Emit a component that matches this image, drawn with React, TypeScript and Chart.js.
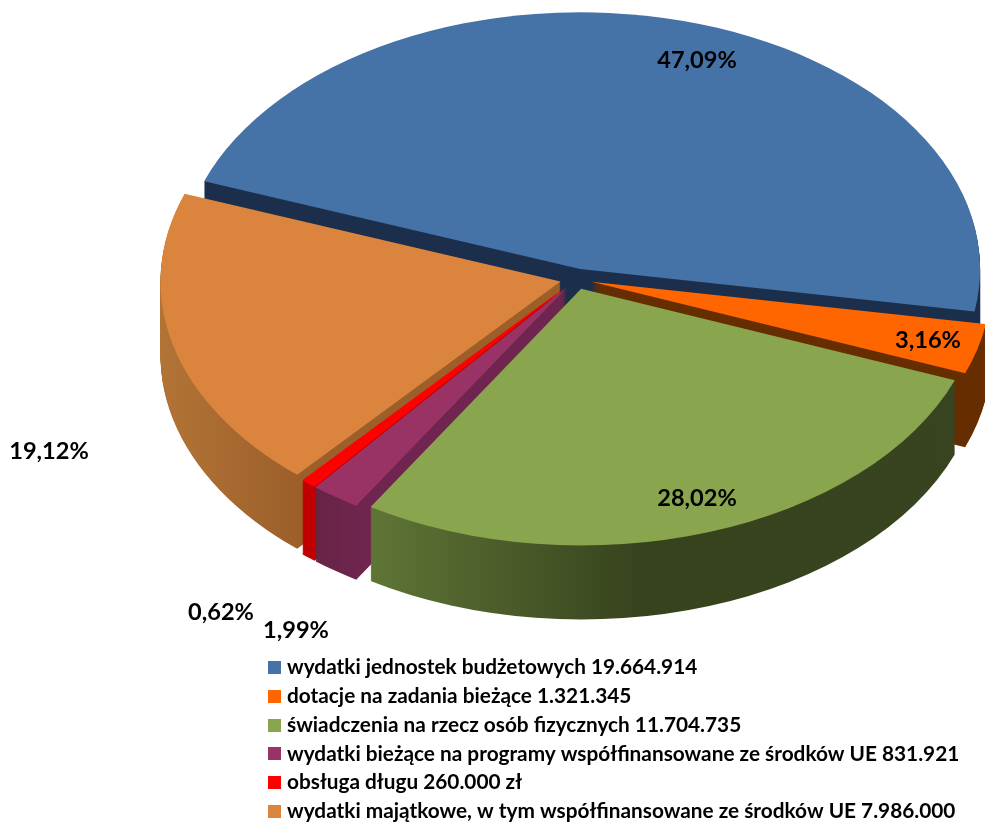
import React, { useEffect, useRef } from "react";
import { Chart, registerables } from "chart.js";

Chart.register(...registerables);

const categories = [
  "wydatki jednostek budżetowych 19.664.914",
  "dotacje na zadania bieżące 1.321.345",
  "świadczenia na rzecz osób fizycznych 11.704.735",
  "wydatki bieżące na programy współfinansowane ze środków UE 831.921",
  "obsługa długu 260.000 zł",
  "wydatki majątkowe, w tym współfinansowane ze środków UE 7.986.000",
];
const values = [19664914, 1321345, 11704735, 831921, 260000, 7986000];
const percentLabels = ["47,09%", "3,16%", "28,02%", "1,99%", "0,62%", "19,12%"];
const sliceColors = ["#4572A7", "#FF6600", "#89A54E", "#993366", "#FF0000", "#DB843D"];

// wall shading per slice: [screenX, colour] stops
const wallStops: [number, string][][] = [
  [[200, "#1B2E4B"], [980, "#1B2E4B"]],
  [[950, "#662E00"], [990, "#662E00"]],
  [[370, "#5F7536"], [640, "#37431D"], [955, "#38441F"]],
  [[315, "#672445"], [370, "#702550"]],
  [[300, "#C00000"], [316, "#C00000"]],
  [[160, "#B27435"], [300, "#9C5F2A"], [560, "#9C5F2A"]],
];
const drawOrder = [0, 1, 5, 4, 3, 2];
const labelCentres = [
  [697, 60],
  [928, 340],
  [697, 498],
  [296, 630],
  [221, 612],
  [49, 451],
];

const CX = 576;
const CY = 279;
const RADIUS = 400;
const SQUASH = 0.642;
const DEPTH = 74;
const EXPLODE = 16;
const FONT = "Lato, 'Noto Sans', sans-serif";
const LEGEND_FONT = 20.8;
const SWATCH = 13;

const pie3d = {
  id: "pie3d",
  afterLayout(chart: any) {
    const l = chart.legend;
    if (!l) return;
    l.left = 264.4;
    l.right = 985;
    l.top = 649;
    l.bottom = 843;
  },
  beforeDatasetsDraw(chart: any) {
    const ctx = chart.ctx;
    const arcs = chart.getDatasetMeta(0).data;
    const place = (el: any, dy: number) => {
      const mid = (el.startAngle + el.endAngle) / 2;
      ctx.translate(CX, CY + dy);
      ctx.scale(1, SQUASH);
      ctx.translate(Math.cos(mid) * EXPLODE, Math.sin(mid) * EXPLODE);
      ctx.translate(-el.x, -el.y);
    };
    drawOrder.forEach((i) => {
      const el = arcs[i];
      const base = el.options;
      const mid = (el.startAngle + el.endAngle) / 2;
      const toUserX = (sx: number) => sx - CX - Math.cos(mid) * EXPLODE + el.x;
      const stops = wallStops[i];
      const grad = ctx.createLinearGradient(toUserX(stops[0][0]), 0, toUserX(stops[stops.length - 1][0]), 0);
      const x0 = stops[0][0];
      const span = stops[stops.length - 1][0] - x0;
      stops.forEach(([sx, c]) => grad.addColorStop((sx - x0) / span, c));
      el.options = Object.assign(Object.create(base), { backgroundColor: grad, borderWidth: 0 });
      for (let dy = DEPTH; dy > 0; dy--) {
        ctx.save();
        place(el, dy);
        el.draw(ctx);
        ctx.restore();
      }
      el.options = base;
      ctx.save();
      place(el, 0);
      el.draw(ctx);
      ctx.restore();
    });
    return false;
  },
  afterDraw(chart: any) {
    const ctx = chart.ctx;
    ctx.save();
    ctx.font = `bold 23.6px ${FONT}`;
    ctx.fillStyle = "#000";
    ctx.textAlign = "center";
    ctx.textBaseline = "middle";
    percentLabels.forEach((t, i) => ctx.fillText(t, labelCentres[i][0], labelCentres[i][1]));
    ctx.restore();
  },
};

function swatch(color: string) {
  const c = document.createElement("canvas");
  c.width = SWATCH;
  c.height = SWATCH;
  const g = c.getContext("2d")!;
  g.fillStyle = color;
  g.fillRect(0, 0, SWATCH, SWATCH);
  return c;
}

export default function App() {
  const ref = useRef<HTMLCanvasElement>(null);
  useEffect(() => {
    document.body.style.margin = "0";
    const chart = new Chart(ref.current!, {
      type: "pie",
      data: {
        labels: categories,
        datasets: [{ data: values, backgroundColor: sliceColors, borderWidth: 0 }],
      },
      options: {
        animation: false,
        responsive: false,
        rotation: -70,
        radius: RADIUS,
        plugins: {
          tooltip: { enabled: false },
          legend: {
            position: "left",
            align: "start",
            labels: {
              usePointStyle: true,
              pointStyleWidth: 4.2,
              boxHeight: SWATCH,
              padding: 8,
              color: "#000",
              font: { family: FONT, size: LEGEND_FONT, weight: "bold" },
              generateLabels: (c: any) =>
                (Chart as any).overrides.pie.plugins.legend.labels
                  .generateLabels(c)
                  .map((it: any, i: number) => ({ ...it, pointStyle: swatch(sliceColors[i]) })),
            },
          },
        },
      } as any,
      plugins: [pie3d as any],
    });
    return () => chart.destroy();
  }, []);
  return <canvas ref={ref} width={985} height={822} style={{ display: "block" }} />;
}
